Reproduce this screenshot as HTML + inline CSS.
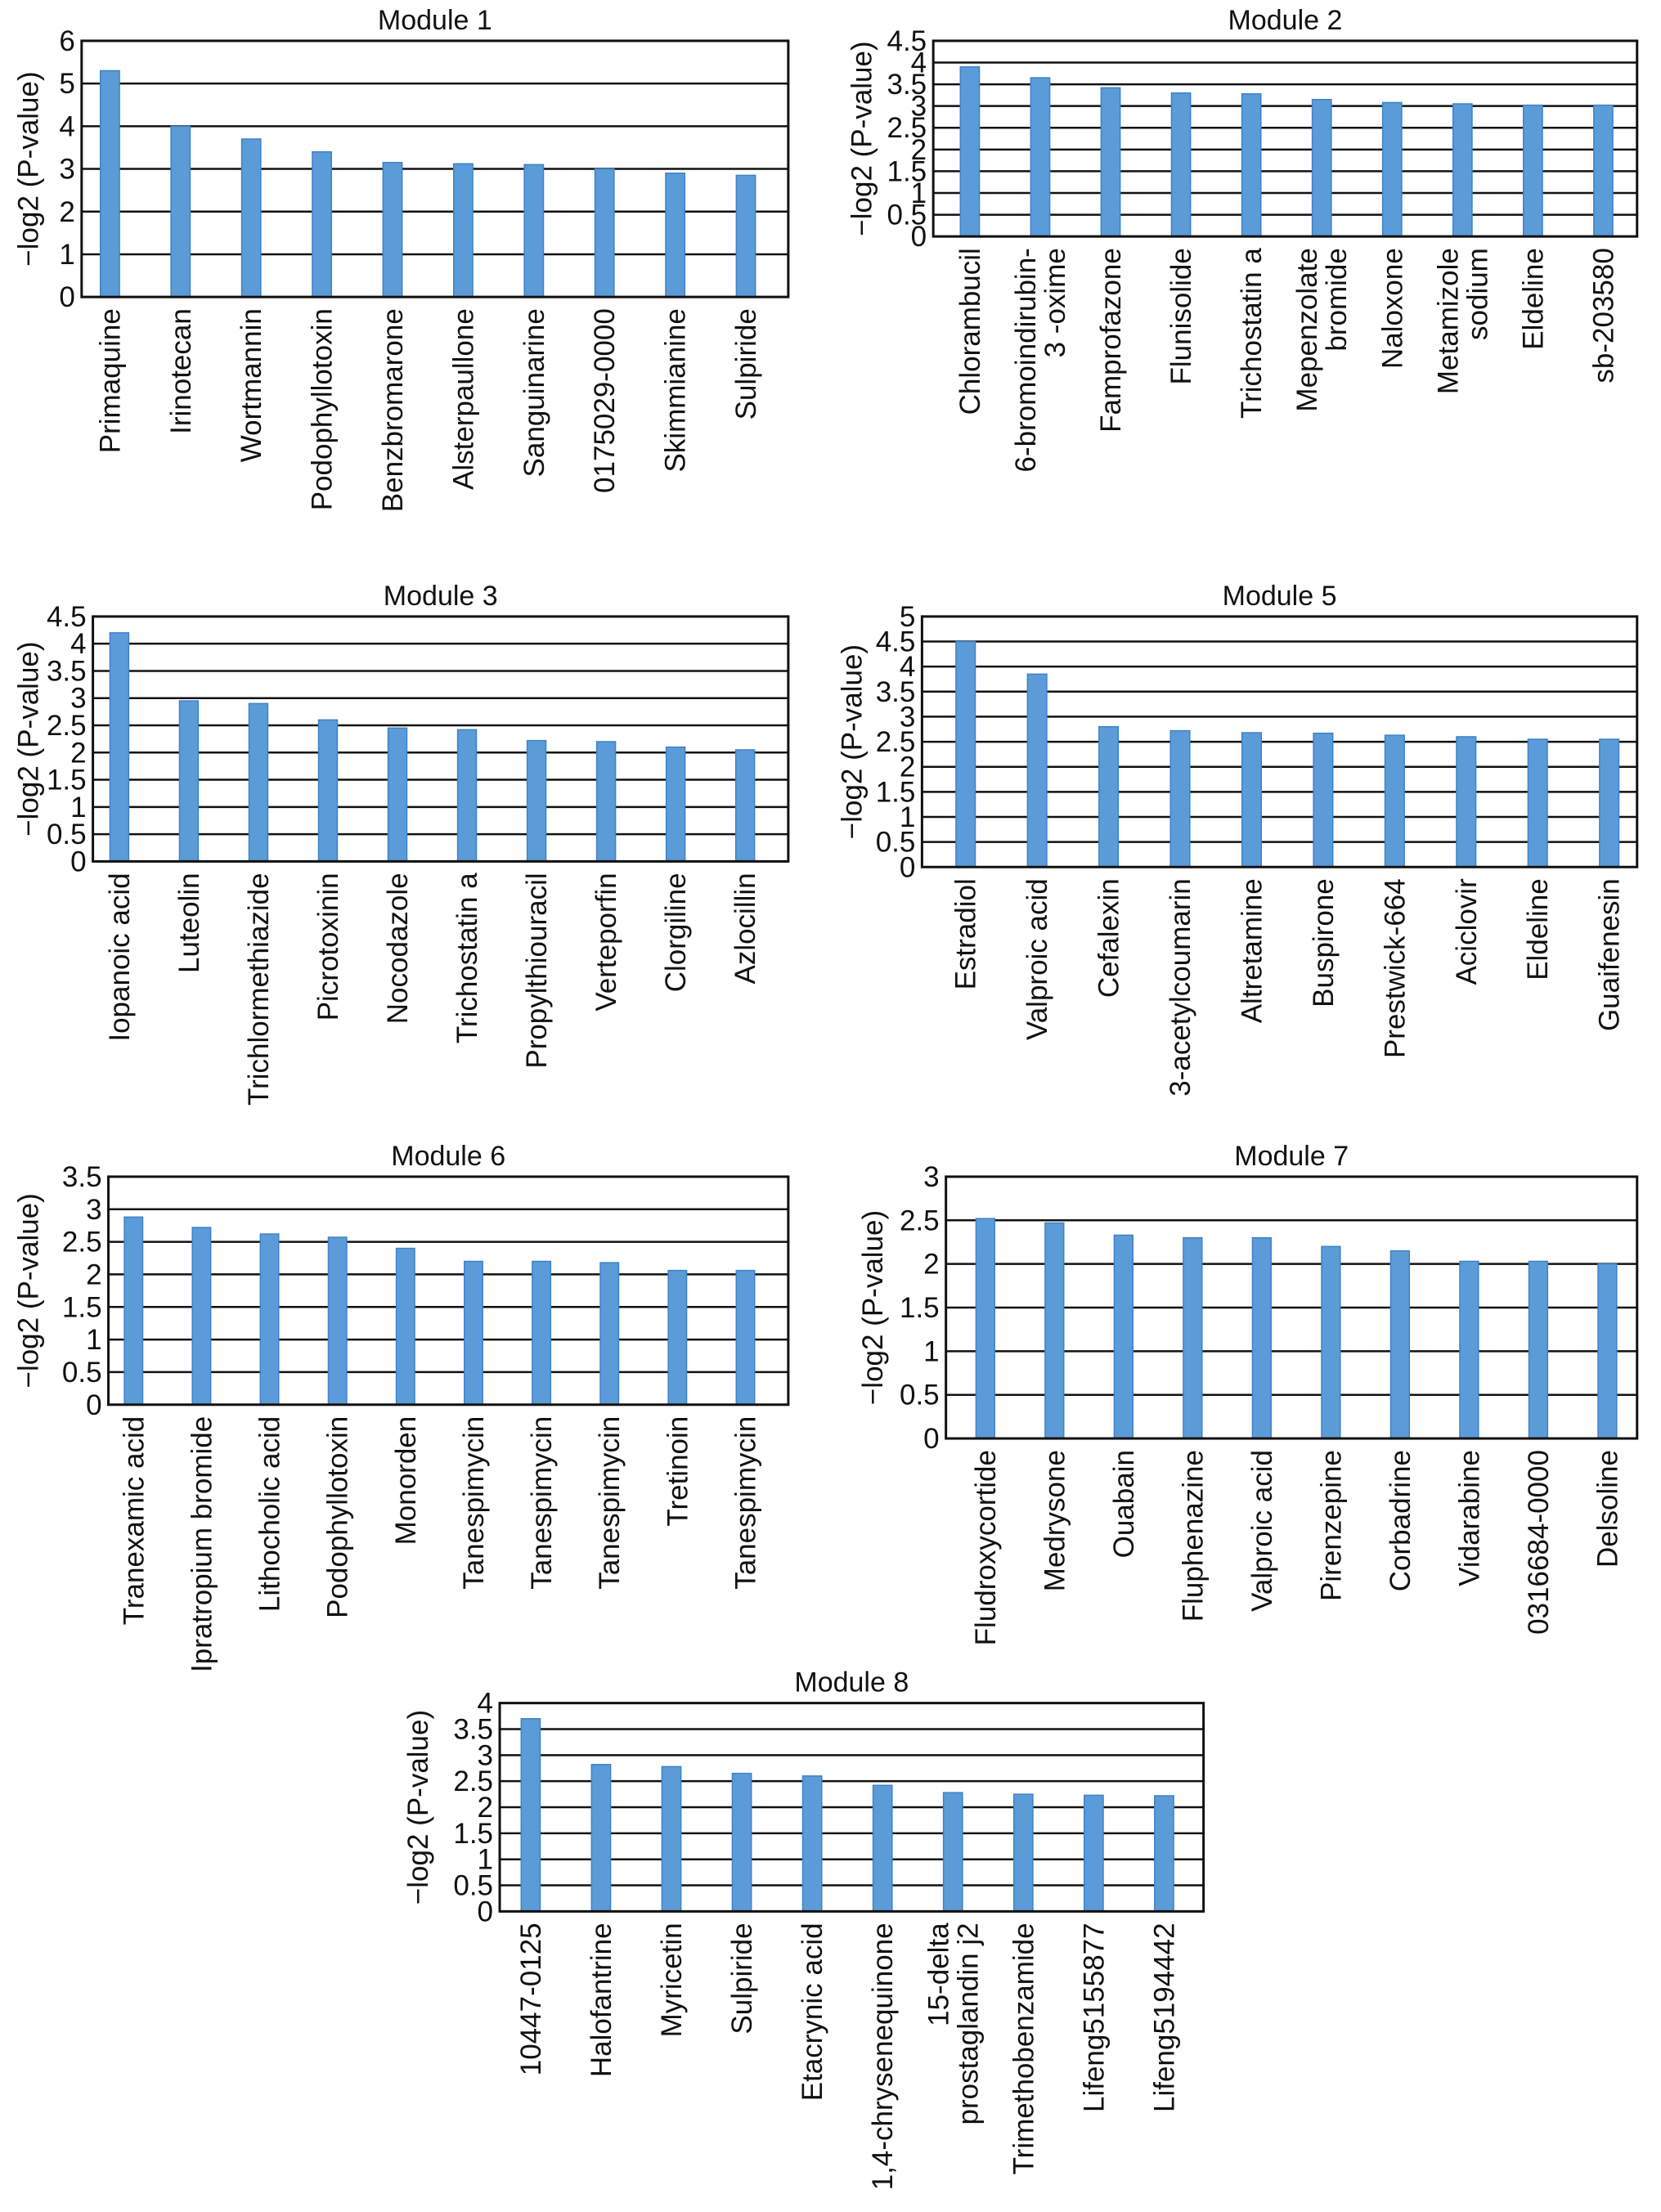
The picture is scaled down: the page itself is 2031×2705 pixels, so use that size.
<!DOCTYPE html>
<html><head><meta charset="utf-8"><style>
html,body{margin:0;padding:0;background:#fff;}
svg{display:block;font-family:"Liberation Sans",Arial,sans-serif;}
</style></head><body>
<svg id="fig" width="2031" height="2705" viewBox="0 0 2031 2705"></svg>
<script>
const S = 1.7212;
// ---- data ----
const m1Cats = ["Primaquine","Irinotecan","Wortmannin","Podophyllotoxin","Benzbromarone","Alsterpaullone","Sanguinarine","0175029-0000","Skimmianine","Sulpiride"];
const m1Vals = [5.3,4.0,3.7,3.4,3.15,3.12,3.1,3.0,2.9,2.85];
const m1Ticks = ["0","1","2","3","4","5","6"];
const m2Cats = ["Chlorambucil","6-bromoindirubin-|3 -oxime","Famprofazone","Flunisolide","Trichostatin a","Mepenzolate|bromide","Naloxone","Metamizole|sodium","Eldeline","sb-203580"];
const m2Vals = [3.9,3.65,3.42,3.3,3.28,3.15,3.08,3.05,3.02,3.02];
const m2Ticks = ["0","0.5","1","1.5","2","2.5","3","3.5","4","4.5"];
const m3Cats = ["Iopanoic acid","Luteolin","Trichlormethiazide","Picrotoxinin","Nocodazole","Trichostatin a","Propylthiouracil","Verteporfin","Clorgiline","Azlocillin"];
const m3Vals = [4.2,2.95,2.9,2.6,2.45,2.42,2.22,2.2,2.1,2.05];
const m3Ticks = ["0","0.5","1","1.5","2","2.5","3","3.5","4","4.5"];
const m5Cats = ["Estradiol","Valproic acid","Cefalexin","3-acetylcoumarin","Altretamine","Buspirone","Prestwick-664","Aciclovir","Eldeline","Guaifenesin"];
const m5Vals = [4.5,3.85,2.8,2.72,2.68,2.67,2.63,2.6,2.55,2.55];
const m5Ticks = ["0","0.5","1","1.5","2","2.5","3","3.5","4","4.5","5"];
const m6Cats = ["Tranexamic acid","Ipratropium bromide","Lithocholic acid","Podophyllotoxin","Monorden","Tanespimycin","Tanespimycin","Tanespimycin","Tretinoin","Tanespimycin"];
const m6Vals = [2.88,2.72,2.62,2.57,2.4,2.2,2.2,2.18,2.06,2.06];
const m6Ticks = ["0","0.5","1","1.5","2","2.5","3","3.5"];
const m7Cats = ["Fludroxycortide","Medrysone","Ouabain","Fluphenazine","Valproic acid","Pirenzepine","Corbadrine","Vidarabine","0316684-0000","Delsoline"];
const m7Vals = [2.52,2.47,2.33,2.3,2.3,2.2,2.15,2.03,2.03,2.0];
const m7Ticks = ["0","0.5","1","1.5","2","2.5","3"];
const m8Cats = ["10447-0125","Halofantrine","Myricetin","Sulpiride","Etacrynic acid","1,4-chrysenequinone","15-delta|prostaglandin j2","Trimethobenzamide","Lifeng5155877","Lifeng5194442"];
const m8Vals = [3.7,2.82,2.78,2.65,2.6,2.42,2.28,2.25,2.23,2.22];
const m8Ticks = ["0","0.5","1","1.5","2","2.5","3","3.5","4"];

const NS = "http://www.w3.org/2000/svg";
const svg = document.getElementById('fig');
const FS = 35;
function mk(tag, attrs, parent){
  const e = document.createElementNS(NS, tag);
  for (const k in attrs) e.setAttribute(k, attrs[k]);
  parent.appendChild(e);
  return e;
}
function chart(id, title, cats, vals, ticks, box, ylx, off){
  const g = mk('g', {}, svg);
  
  
  const x0 = box[0]*S, x1 = box[1]*S, y0 = box[2]*S, y1 = box[3]*S;
  const tmin = parseFloat(ticks[0]), tmax = parseFloat(ticks[ticks.length-1]);
  const yv = v => y1 - (v - tmin) / (tmax - tmin) * (y1 - y0);
  const cw = (x1 - x0) / cats.length;
  const xc = i => x0 + cw * (i + off);
  const t = mk('text', {x:(x0+x1)/2, y:y0-14, 'text-anchor':'middle', 'font-size':34, fill:'#111'}, g);
  t.textContent = title;
  
  
  ticks.forEach(tk => {
    const y = yv(parseFloat(tk));
    const l = mk('line', {x1:x0, x2:x1, y1:y, y2:y, stroke:'#111', 'stroke-width':2.5}, g);
    
    
    const tl = mk('text', {x:x0-8, y:y+12, 'text-anchor':'end', 'font-size':FS, fill:'#111'}, g);
    tl.textContent = tk;
    
    
  });
  const bw = cw * 0.27;
  vals.forEach((v, i) => {
    const r = mk('rect', {x:xc(i)-bw/2, y:yv(v), width:bw, height:y1-yv(v), fill:'#5b9bd8', stroke:'#3f82c8', 'stroke-width':1.5}, g);
    
    
  });
  const b = mk('rect', {x:x0, y:y0, width:x1-x0, height:y1-y0, fill:'none', stroke:'#111', 'stroke-width':3}, g);
  
  
  cats.forEach((c, i) => {
    const lines = c.split('|');
    const n = lines.length;
    lines.forEach((ln, j) => {
      const cx = xc(i) + 12 + (j - (n-1)/2) * 36;
      const ty = y1 + 14;
      const xl = mk('text', {x:0, y:0, 'text-anchor':'end', 'font-size':FS, fill:'#111',
        transform:'translate(' + cx + ',' + ty + ') rotate(-90)'}, g);
      xl.textContent = ln;
      
      
    });
  });
  const yt = mk('text', {x:0, y:0, 'text-anchor':'middle', 'font-size':FS, fill:'#111',
    transform:'translate(' + (ylx*S+12) + ',' + ((y0+y1)/2) + ') rotate(-90)'}, g);
  yt.textContent = '\u2212log2 (P-value)';
  
  
}
chart('chart-module-1', 'Module 1', m1Cats, m1Vals, m1Ticks, [58,560,29,211], 20, 0.40);
chart('chart-module-2', 'Module 2', m2Cats, m2Vals, m2Ticks, [663,1163,29,168], 612, 0.52);
chart('chart-module-3', 'Module 3', m3Cats, m3Vals, m3Ticks, [66,560,438,612], 20, 0.38);
chart('chart-module-5', 'Module 5', m5Cats, m5Vals, m5Ticks, [655,1163,438,616], 605, 0.61);
chart('chart-module-6', 'Module 6', m6Cats, m6Vals, m6Ticks, [77,560,836,998], 20, 0.37);
chart('chart-module-7', 'Module 7', m7Cats, m7Vals, m7Ticks, [672,1163,836,1022], 620, 0.57);
chart('chart-module-8', 'Module 8', m8Cats, m8Vals, m8Ticks, [355,855,1210,1358], 297, 0.44);
</script>
</body></html>
